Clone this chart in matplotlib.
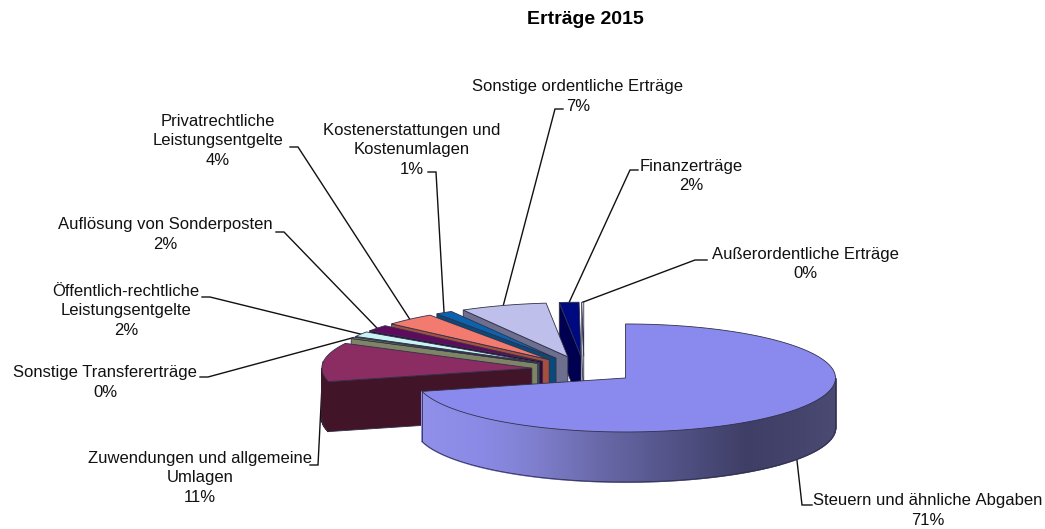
import numpy as np
import matplotlib
matplotlib.use("Agg")
import matplotlib.pyplot as plt
from matplotlib.patches import Polygon

plt.rcParams['font.family'] = ['Liberation Sans', 'DejaVu Sans']

# --- data -----------------------------------------------------------------
categories = ["Steuern und ähnliche\u00a0Abgaben", "Zuwendungen und allgemeine\nUmlagen", "Sonstige Transfererträge",
              "Öffentlich-rechtliche\nLeistungsentgelte", "Auflösung von Sonderposten",
              "Privatrechtliche\nLeistungsentgelte", "Kostenerstattungen und\nKostenumlagen",
              "Sonstige ordentliche Erträge", "Finanzerträge", "Außerordentliche Erträge"]
values = [71.0, 11.6, 0.45, 1.55, 1.9, 3.9, 1.3, 6.65, 1.5, 0.15]
pct_labels = ["71%", "11%", "0%", "2%", "2%", "4%", "1%", "7%", "2%", "0%"]
top_colors = ["#8A8AEE", "#8B2C62", "#727A5A", "#C8F5F2", "#5E0A5E", "#F27A6E", "#0B63B0", "#BFBFEC", "#000A80", "#FFFFFF"]
wall_colors = ["#8A8AEE", "#421428", "#7F8464", "#2A5A5A", "#3A0538", "#A5503F", "#0A4A78", "#6E6E8E", "#000050", "#E8E8E8"]
label_pos = [(928, 501), (200, 458), (105, 373), (126, 291), (165, 225),
             (218, 121), (412, 130), (578, 87), (691, 166), (805, 254)]
elbow_a = [(812, 505), (310, 465), (200, 377), (202, 297), (276, 232),
           (290, 147), (428, 172), (563, 109), (638, 170), (707, 260)]
elbow_b = [(802, 505), (318, 465), (208, 377), (210, 297), (284, 232),
           (298, 147), (436, 172), (555, 109), (630, 170), (695, 260)]

# --- geometry -------------------------------------------------------------
CX, CY, RX, RY, DEPTH, EXPLODE = 584.0, 369.7, 210.0, 54.0, 50.0, 0.25
LINE_H = 19.6

fig = plt.figure(figsize=(10.45, 5.29), dpi=100, facecolor="white")
ax = fig.add_axes([0, 0, 1, 1])
ax.set_xlim(0, 1045)
ax.set_ylim(529, 0)
ax.axis("off")

def pt(apex, deg):
    r = np.radians(deg)
    return apex[0] + RX * np.sin(r), apex[1] - RY * np.cos(r)

edges = np.concatenate([[0], np.cumsum(values)]) / np.sum(values) * 360.0
EC, LW = "#30304A", 0.6

def shade(x):
    """shade of the big slice's outer wall"""
    xs = [420, 480, 530, 600, 680, 745, 790, 835]
    return (np.interp(x, xs, [0x90, 0x8A, 0x80, 0x68, 0x50, 0x3E, 0x42, 0x4A]) / 255,
            np.interp(x, xs, [0x90, 0x8A, 0x80, 0x68, 0x50, 0x3E, 0x42, 0x4A]) / 255,
            np.interp(x, xs, [0xEA, 0xE6, 0xD0, 0xA8, 0x84, 0x66, 0x6A, 0x72]) / 255)

def draw_slice(i, z):
    a, b = edges[i], edges[i + 1]
    m = (a + b) / 2
    r = np.radians(m)
    apex = (CX + EXPLODE * RX * np.sin(r), CY - EXPLODE * RY * np.cos(r))
    ang = np.linspace(a, b, max(int(b - a) * 2, 4))
    arc = np.array([pt(apex, t) for t in ang])
    # radial wall on the start edge (left-hand slices face the viewer here)
    if a >= 180:
        p = pt(apex, a)
        ax.add_patch(Polygon([apex, p, (p[0], p[1] + DEPTH), (apex[0], apex[1] + DEPTH)],
                             fc=wall_colors[i], ec=EC, lw=LW, zorder=z))
    # outer wall, only where it faces the viewer
    lo, hi = max(a, 90), min(b, 270)
    if hi > lo:
        t = np.linspace(lo, hi, 300 if i == 0 else 20)
        w = np.array([pt(apex, v) for v in t])
        for k in range(len(t) - 1):
            c = shade((w[k, 0] + w[k + 1, 0]) / 2) if i == 0 else wall_colors[i]
            ax.add_patch(Polygon([w[k], w[k + 1], w[k + 1] + [0, DEPTH], w[k] + [0, DEPTH]],
                                 fc=c, ec=c, lw=1.2, zorder=z))
        ax.plot(w[:, 0], w[:, 1] + DEPTH, color=EC, lw=LW, zorder=z + 0.1)
        if i == 0:
            ax.plot([w[0, 0]] * 2, [w[0, 1], w[0, 1] + DEPTH], color=EC, lw=LW, zorder=z + 0.1)
            ax.plot([w[-1, 0]] * 2, [w[-1, 1], w[-1, 1] + DEPTH], color=EC, lw=LW, zorder=z + 0.1)
    # top surface
    ax.add_patch(Polygon(np.vstack([[apex], arc]), fc=top_colors[i], ec=EC, lw=LW, zorder=z + 0.2))
    return pt(apex, m)

# leader lines sit below the pie; slices are painted back to front
for n, i in enumerate(range(len(values) - 1, -1, -1)):
    end = draw_slice(i, 3 + n)
    ax.plot([elbow_a[i][0], elbow_b[i][0], end[0]], [elbow_a[i][1], elbow_b[i][1], end[1]],
            color="#111111", lw=1.0, zorder=2, solid_joinstyle="miter")

FS = 12.0
for name, pct, (x, y) in zip(categories, pct_labels, label_pos):
    lines = name.split("\n") + [pct]
    for j, s in enumerate(lines):
        ax.text(x, y + j * LINE_H, s, ha="center", va="center", fontsize=FS, color="#111111")

ax.text(585, 20, "Erträge 2015", ha="center", va="center", fontsize=14, fontweight="bold", color="black")

fig.savefig("out.png", dpi=100)
